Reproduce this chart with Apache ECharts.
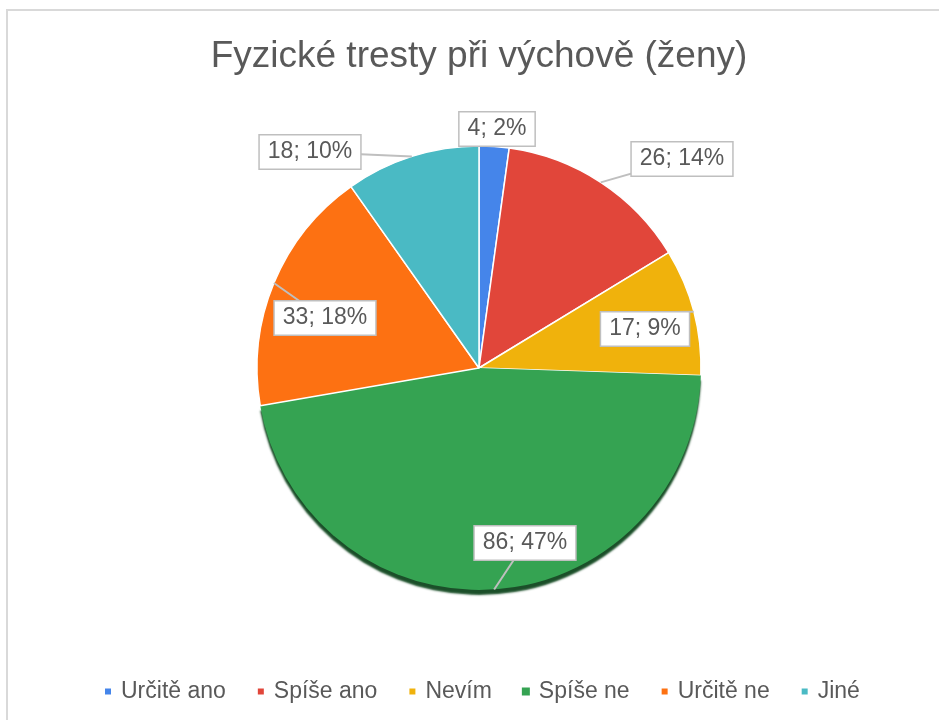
<!DOCTYPE html>
<html>
<head>
<meta charset="utf-8">
<title>Fyzické tresty při výchově (ženy)</title>
<script src="https://cdn.jsdelivr.net/npm/echarts@6/dist/echarts.min.js"></script>
<style>
	html, body { margin: 0; padding: 0; background: #fff; }
	#chart { width: 939px; height: 720px; }
</style>
</head>
<body>
<div id="chart"></div>
<script>
	'use strict';

	// data
	var categories = ['Určitě ano', 'Spíše ano', 'Nevím', 'Spíše ne', 'Určitě ne', 'Jiné'];
	var counts = [4, 26, 17, 86, 33, 18];
	var colors = ['#4585ea', '#e1463a', '#f0b20c', '#35a352', '#fd7112', '#4abac4'];

	// where each callout box sits (centre of box)
	var calloutPos = [
		[497, 129],
		[682, 159],
		[645, 329],
		[525, 543],
		[325, 318],
		[310, 152]
	];

	var textColor = '#595959';
	var font = '"Liberation Sans", Arial, sans-serif';
	var pieCenter = [479, 368];
	var pieRadius = 222;

	var chart = echarts.init(document.getElementById('chart'), null, { renderer: 'canvas' });

	var pieData = categories.map(function(name, i) {
		var style = { color: colors[i] };
		if (i === 3) {
			// the big slice carries the drop shadow at the bottom
			style.borderWidth = 0;
			style.shadowColor = 'rgba(15, 70, 30, 0.95)';
			style.shadowOffsetY = 5;
			style.shadowBlur = 2;
		}
		return { name: name, value: counts[i], itemStyle: style };
	});

	// same values again, invisible, only to carry the callouts above the slices
	var labelData = categories.map(function(name, i) {
		return { name: name, value: counts[i] };
	});

	var option = {
		backgroundColor: '#fff',
		animation: false,
		title: {
			text: 'Fyzické tresty při výchově (ženy)',
			left: 474,
			textAlign: 'center',
			top: 33,
			textStyle: {
				fontFamily: font,
				fontSize: 37,
				fontWeight: 'normal',
				color: textColor
			}
		},
		legend: {
			data: categories,
			left: 98,
			top: 675,
			icon: 'rect',
			itemWidth: 8,
			itemHeight: 8,
			itemGap: 30,
			textStyle: {
				fontFamily: font,
				fontSize: 23,
				color: textColor,
				padding: [0, 0, 0, 4]
			}
		},
		graphic: [{
			type: 'rect',
			shape: { x: 7, y: 10, width: 960, height: 800 },
			style: { fill: 'none', stroke: '#d9d9d9', lineWidth: 2 },
			silent: true
		}],
		series: [{
			type: 'pie',
			z: 2,
			center: pieCenter,
			radius: pieRadius,
			startAngle: 90,
			clockwise: true,
			data: pieData,
			itemStyle: {
				borderColor: '#ffffff',
				borderWidth: 1.5
			},
			label: { show: false },
			labelLine: { show: false },
			emphasis: { disabled: true }
		}, {
			type: 'pie',
			z: 3,
			silent: true,
			legendHoverLink: false,
			center: pieCenter,
			radius: pieRadius,
			startAngle: 90,
			clockwise: true,
			percentPrecision: 0,
			avoidLabelOverlap: false,
			data: labelData,
			itemStyle: {
				color: 'rgba(0,0,0,0)',
				borderWidth: 0
			},
			label: {
				show: true,
				position: 'outside',
				formatter: '{c}; {d}%',
				fontFamily: font,
				fontSize: 23,
				color: textColor,
				backgroundColor: '#ffffff',
				borderColor: '#bfbfbf',
				borderWidth: 1.5,
				padding: [6, 8, 4, 8]
			},
			labelLine: {
				show: true,
				length: 10,
				length2: 10,
				lineStyle: { color: '#bfbfbf', width: 2 }
			},
			labelLayout: function(params) {
				var p = calloutPos[params.dataIndex];
				var res = {
					x: p[0],
					y: p[1],
					align: 'center',
					verticalAlign: 'middle'
				};
				if (params.labelLinePoints) {
					var edge = params.labelLinePoints[0];
					// pointer leaves the box from its top edge, like the callout tails
					var mid = [(edge[0] + p[0]) / 2, p[1] - 17];
					res.labelLinePoints = edge[1] < p[1] - 17 && Math.abs(edge[0] - p[0]) > 40
						? [edge, mid, p] : [edge, p, p];
				}
				return res;
			},
			emphasis: { disabled: true }
		}]
	};

	chart.setOption(option);
</script>
</body>
</html>
